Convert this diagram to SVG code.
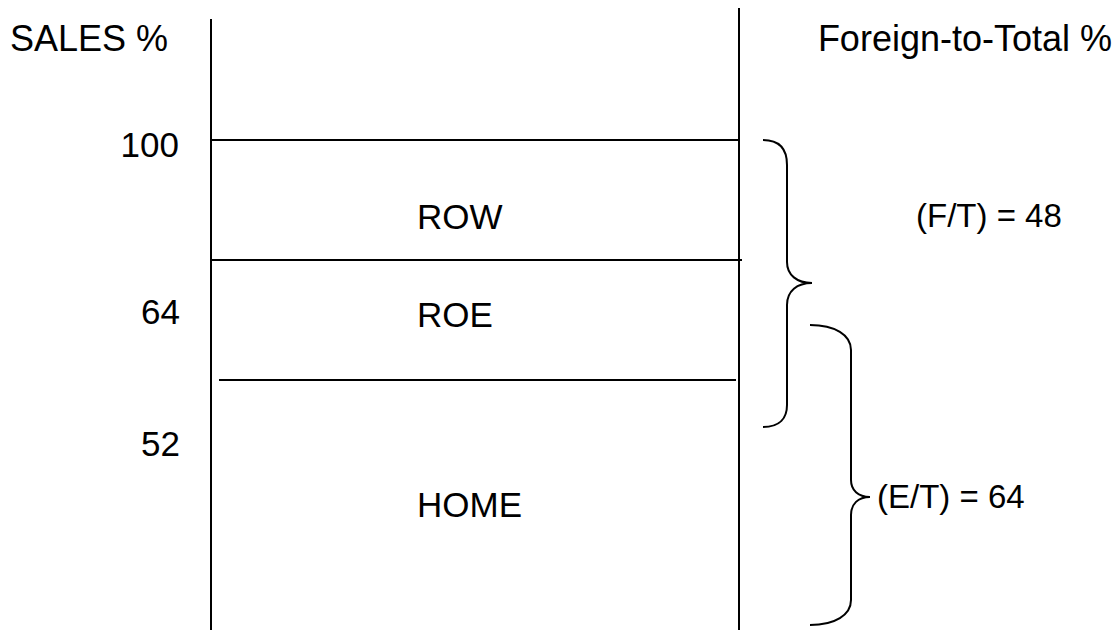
<svg xmlns="http://www.w3.org/2000/svg" width="1120" height="630" viewBox="0 0 1120 630">
<style>
.ln{stroke:#000;stroke-width:2;fill:none}
.br{stroke:#000;stroke-width:2;fill:none}
text{font-family:"Liberation Sans",Arial,sans-serif;font-size:35px;fill:#000}
.hd{font-size:36px}
.rt{font-size:33px}
</style>
<rect width="1120" height="630" fill="#fff"/>
<g id="axes">
<line class="ln" x1="211" y1="19" x2="211" y2="630"/>
<line class="ln" x1="739" y1="8" x2="739" y2="630"/>
<line class="ln" x1="211" y1="140" x2="739" y2="140"/>
<line class="ln" x1="211" y1="260" x2="742" y2="260"/>
<line class="ln" x1="219" y1="380" x2="736" y2="380"/>
</g>
<g id="labels">
<text class="hd" x="10" y="51">SALES %</text>
<text class="hd" x="1112" y="51" text-anchor="end">Foreign-to-Total %</text>
<text x="179" y="157" text-anchor="end">100</text>
<text x="180" y="324" text-anchor="end">64</text>
<text x="180" y="456" text-anchor="end">52</text>
</g>
<g id="row"><text x="417" y="229">ROW</text></g>
<g id="roe"><text x="417" y="327">ROE</text></g>
<g id="home"><text x="417" y="517">HOME</text></g>
<g id="connectors">
<path class="br" d="M763,140 C780,140 787,150 787,165 L787,262 C787,275 797,283 812,283 C797,283 787,291 787,305 L787,405 C787,418 780,427 763,427"/>
<path class="br" d="M810,325 C835,325 851,335 851,350 L851,480 C851,490 858,497 870,497 C858,497 851,504 851,515 L851,600 C851,615 835,625 810,625"/>
</g>
<g id="ft"><text class="rt" x="916" y="227">(F/T) = 48</text></g>
<g id="et"><text class="rt" x="877" y="508">(E/T) = 64</text></g>
</svg>
